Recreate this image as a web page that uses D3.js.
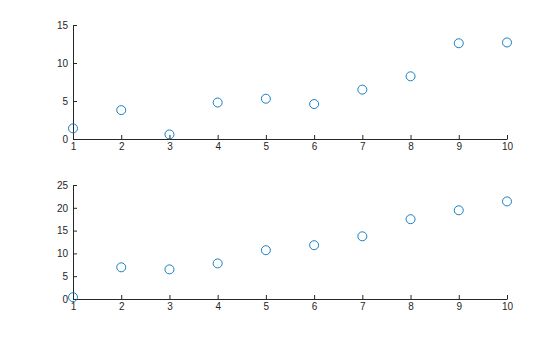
<!DOCTYPE html>
<html>
<head>
<meta charset="utf-8">
<script src="https://cdn.jsdelivr.net/npm/d3@7"></script>
<style>
  body { margin: 0; background: #fff; }
  svg { display: block; }
  .axis text { font-family: "Liberation Sans", Arial, sans-serif; font-size: 10px; fill: #262626; }
  .axis path, .axis line { stroke: #262626; }
</style>
</head>
<body>
<svg width="560" height="337"></svg>
<script>
const xs = [1, 2, 3, 4, 5, 6, 7, 8, 9, 10];
const topValues = [1.4, 3.8, 0.6, 4.8, 5.3, 4.6, 6.5, 8.25, 12.6, 12.7];
const bottomValues = [0.4, 6.95, 6.5, 7.8, 10.7, 11.8, 13.75, 17.5, 19.45, 21.4];
const topTicks = [0, 5, 10, 15];
const bottomTicks = [0, 5, 10, 15, 20, 25];

const svg = d3.select("svg");
const left = 73, right = 507;

const x = d3.scaleLinear().domain([1, 10]).range([left, right]);

const panels = [
  { values: topValues, ticks: topTicks, max: 15, y0: 139, y1: 25 },
  { values: bottomValues, ticks: bottomTicks, max: 25, y0: 299, y1: 185 }
];

panels.forEach(p => {
  const y = d3.scaleLinear().domain([0, p.max]).range([p.y0, p.y1]);
  const g = svg.append("g");

  // x axis with inward ticks
  g.append("g")
    .attr("class", "axis")
    .attr("transform", `translate(0,${p.y0})`)
    .call(d3.axisBottom(x).tickValues(xs).tickFormat(d3.format("d")).tickSizeInner(-4).tickSizeOuter(0))
    .call(a => a.selectAll("text").attr("y", 4).attr("dy", "0.71em"));

  // y axis with inward ticks
  g.append("g")
    .attr("class", "axis")
    .attr("transform", `translate(${left},0)`)
    .call(d3.axisLeft(y).tickValues(p.ticks).tickSizeInner(-4).tickSizeOuter(0))
    .call(a => a.selectAll("text").attr("x", -5));

  g.selectAll("circle")
    .data(p.values)
    .enter()
    .append("circle")
    .attr("cx", (d, i) => x(xs[i]))
    .attr("cy", d => y(d))
    .attr("r", 4.5)
    .attr("fill", "none")
    .attr("stroke", "#0072BD")
    .attr("stroke-width", 0.9);
});
</script>
</body>
</html>
